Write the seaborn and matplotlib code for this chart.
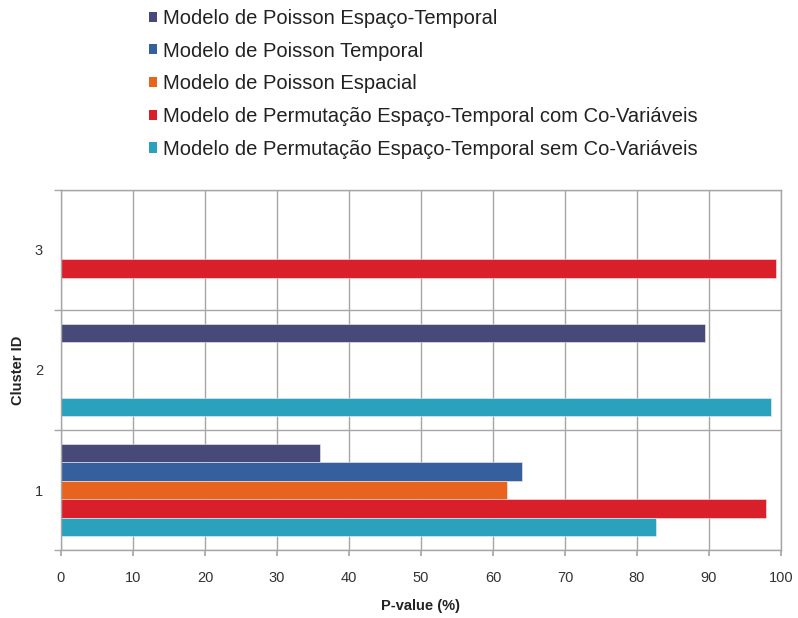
import numpy as np
import pandas as pd
import seaborn as sns
import matplotlib.pyplot as plt
from matplotlib.patches import Patch
from matplotlib.ticker import FixedLocator

# dados
clusters = ["3", "2", "1"]
series = [
    "Modelo de Poisson Espaço-Temporal",
    "Modelo de Poisson Temporal",
    "Modelo de Poisson Espacial",
    "Modelo de Permutação Espaço-Temporal com Co-Variáveis",
    "Modelo de Permutação Espaço-Temporal sem Co-Variáveis",
]
# valores por série, na ordem dos clusters (3, 2, 1)
poisson_st = [np.nan, 89.4, 36.0]
poisson_t = [np.nan, np.nan, 64.0]
poisson_esp = [np.nan, np.nan, 62.0]
perm_com = [99.3, np.nan, 97.9]
perm_sem = [np.nan, 98.6, 82.7]
colors = ["#474a78", "#365f9d", "#e8641e", "#d81f2a", "#2aa1bd"]

rows = []
for name, vals in zip(series, [poisson_st, poisson_t, poisson_esp, perm_com, perm_sem]):
    for c, v in zip(clusters, vals):
        rows.append({"Cluster ID": c, "P-value (%)": v, "Modelo": name})
df = pd.DataFrame(rows)

sns.set_theme(style="white")
plt.rcParams["font.family"] = ["Liberation Sans", "DejaVu Sans"]

fig = plt.figure(figsize=(7.98, 6.18), dpi=100)
ax = fig.add_axes([0.0764, 0.110, 0.9023, 0.5826])

sns.barplot(data=df, x="P-value (%)", y="Cluster ID", hue="Modelo",
            order=clusters, hue_order=series, palette=colors,
            orient="h", width=0.77, errorbar=None, saturation=1,
            linewidth=0.4, edgecolor="#f0f0f0", ax=ax, legend=False)

ax.set_xlim(0, 100)
ax.set_ylim(2.5, -0.5)
ax.set_xticks(range(0, 101, 10))
ax.yaxis.set_minor_locator(FixedLocator([-0.5, 0.5, 1.5, 2.5]))

grid_c = "#a6a6a6"
ax.grid(True, axis="x", color=grid_c, linewidth=1.0)
ax.grid(True, axis="y", which="minor", color=grid_c, linewidth=1.0)
ax.set_axisbelow(True)
for s in ax.spines.values():
    s.set_color(grid_c)
    s.set_linewidth(1.0)

ax.tick_params(axis="y", which="major", length=0, pad=13, labelsize=10.5, labelcolor="#333333")
ax.tick_params(axis="y", which="minor", length=5, color=grid_c, direction="out", left=True)
ax.tick_params(axis="x", length=4, color=grid_c, direction="out", bottom=True, pad=11,
               labelsize=10.5, labelcolor="#333333")

ax.set_xlabel("P-value (%)", fontsize=10.5, fontweight="bold", color="#222222", labelpad=10)
ax.set_ylabel("Cluster ID", fontsize=10.5, fontweight="bold", color="#222222", labelpad=7)

handles = [Patch(facecolor=c, edgecolor="none") for c in colors]
fig.legend(handles, series, loc="upper left", bbox_to_anchor=(0.1635, 1.015),
           frameon=False, fontsize=14.5, handlelength=0.4, handleheight=0.4,
           handletextpad=0.3, labelspacing=0.68, labelcolor="#222222")

fig.savefig("out.png", dpi=100)
